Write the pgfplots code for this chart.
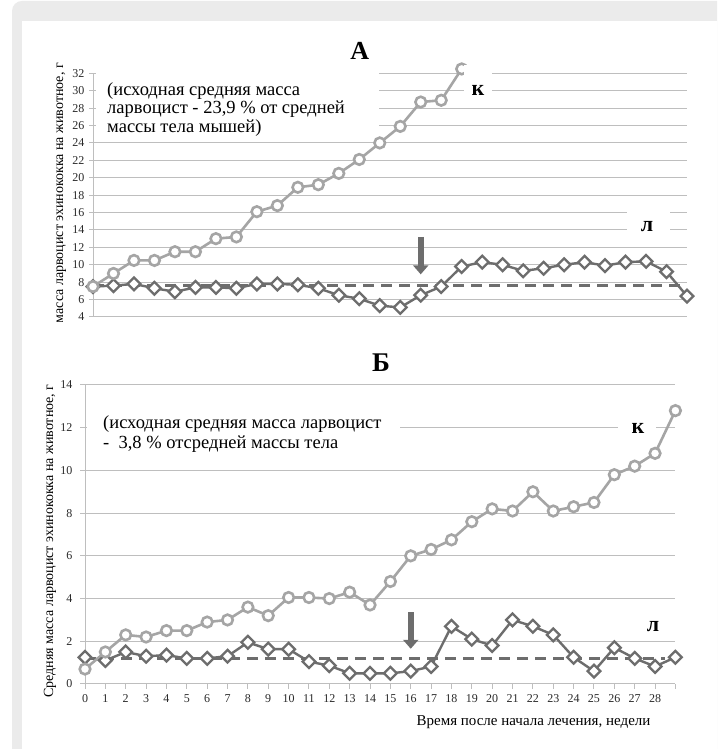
\documentclass[border=0pt]{standalone}
\usepackage{pgfplots}
\pgfplotsset{compat=1.18}
\usepackage{fontspec}
\setmainfont{Liberation Serif}
\usetikzlibrary{arrows.meta}
\definecolor{kc}{HTML}{A5A5A5}
\definecolor{lc}{HTML}{6D6D6D}
\definecolor{gridc}{HTML}{BEBEBE}
\definecolor{bandc}{HTML}{EBEBEB}
\definecolor{txt}{HTML}{2A2A2A}

\pgfplotstableread{
x k
0 7.5
1 9.0
2 10.5
3 10.5
4 11.5
5 11.5
6 13.0
7 13.2
8 16.1
9 16.8
10 18.9
11 19.2
12 20.5
13 22.1
14 24.0
15 25.9
16 28.7
17 28.9
18 32.5
}\Ak
\pgfplotstableread{
x l
0 7.5
1 7.6
2 7.8
3 7.3
4 6.9
5 7.4
6 7.4
7 7.3
8 7.8
9 7.8
10 7.7
11 7.3
12 6.5
13 6.1
14 5.3
15 5.1
16 6.5
17 7.5
18 9.8
19 10.3
20 10.0
21 9.3
22 9.6
23 10.0
24 10.3
25 9.9
26 10.3
27 10.4
28 9.2
29 6.4
}\Al
\pgfplotstableread{
x k l
0 0.7 1.25
1 1.5 1.1
2 2.3 1.5
3 2.2 1.3
4 2.5 1.35
5 2.5 1.2
6 2.9 1.2
7 3.0 1.3
8 3.6 1.95
9 3.2 1.63
10 4.05 1.63
11 4.05 1.05
12 4.0 0.86
13 4.3 0.5
14 3.7 0.5
15 4.8 0.5
16 6.0 0.6
17 6.3 0.82
18 6.75 2.7
19 7.6 2.1
20 8.2 1.8
21 8.1 3.0
22 9.0 2.7
23 8.1 2.3
24 8.3 1.25
25 8.5 0.6
26 9.8 1.7
27 10.2 1.2
28 10.8 0.82
29 12.8 1.25
}\Bdata

\pgfplotsset{
  kstyle/.style={kc, line width=2.6pt, mark=*, mark size=5.3pt, mark options={fill=white, draw=kc, line width=2.6pt}},
  lstyle/.style={lc, line width=2.4pt, mark=square*, mark size=4.5pt, mark options={rotate=45, fill=white, draw=lc, line width=2.3pt}},
  dstyle/.style={lc, line width=2.6pt, dash pattern=on 11pt off 7pt},
}

\begin{document}
\begin{tikzpicture}[x=1pt,y=1pt]
\useasboundingbox (0pt,0pt) rectangle (717pt,749pt);
\fill[white] (0pt,0pt) rectangle (717pt,749pt);
\begin{scope}
\clip (0pt,0pt) rectangle (717pt,749pt);
\fill[bandc, rounded corners=10pt] (12pt,-20pt) rectangle (740pt,748pt);
\fill[white] (22pt,-5pt) rectangle (730pt,728pt);
\end{scope}

% ---------- Panel A ----------
\begin{axis}[
  at={(93pt,432pt)}, anchor=south west, scale only axis,
  width=594pt, height=243.7pt,
  xmin=0, xmax=29, ymin=4, ymax=32,
  ytick={4,6,...,32}, xtick=\empty,
  axis x line*=bottom, axis y line*=left,
  axis line style={gridc, line width=1pt},
  ymajorgrids, grid style={gridc, line width=1pt},
  major tick style={gridc, line width=1pt},
  major tick length=8pt, tick align=center,
  yticklabel style={font=\fontsize{12}{12}\selectfont, text=txt, xshift=-1pt},
  /pgf/number format/assume math mode=true,
  clip=false,
]
\addplot[dstyle] coordinates {(0,7.6) (29,7.6)};
\addplot[lstyle] table[x=x,y=l] {\Al};
\addplot[kstyle] table[x=x,y=k] {\Ak};
\draw[lc, line width=6pt, -{Triangle[width=15pt,length=9pt]}] (axis cs:16,13.2) -- (axis cs:16,8.9);
\end{axis}

% white boxes over gridlines (panel A)
\fill[white] (96pt,614pt) rectangle (379pt,687pt);
\fill[white] (464pt,649pt) rectangle (492pt,684pt);
\fill[white] (627pt,509pt) rectangle (670pt,544pt);
\node[anchor=north west, inner sep=0pt, align=left, font=\fontsize{18.5}{18.5}\selectfont] at (107pt,667pt)
  {(исходная средняя масса\\ларвоцист - 23,9 \% от средней\\массы тела мышей)};
\node[font=\fontsize{22}{22}\selectfont\bfseries] at (478pt,658.3pt) {к};
\node[font=\fontsize{22}{22}\selectfont\bfseries] at (647pt,522.3pt) {л};
\node[font=\fontsize{26}{26}\selectfont\bfseries] at (359.7pt,698.5pt) {А};
\begin{scope}
\clip (0pt,427pt) rectangle (90pt,749pt);
\node[rotate=90, anchor=east, inner sep=0pt, font=\fontsize{14}{14}\selectfont] at (60pt,686pt)
  {Средняя масса ларвоцист эхинококка на животное, г};
\end{scope}

% ---------- Panel B ----------
\begin{axis}[
  at={(85pt,65pt)}, anchor=south west, scale only axis,
  width=590.4pt, height=299pt,
  xmin=0, xmax=29, ymin=0, ymax=14,
  ytick={0,2,...,14},
  xtick={0,...,29},
  xticklabels={0,1,2,3,4,5,6,7,8,9,10,11,12,13,14,15,16,17,18,19,20,21,22,23,24,25,26,27,28,{}},
  axis x line*=bottom, axis y line*=left,
  axis line style={gridc, line width=1pt},
  ymajorgrids, grid style={gridc, line width=1pt},
  major tick style={gridc, line width=1pt},
  major tick length=5pt, tick align=outside,
  yticklabel style={font=\fontsize{12}{12}\selectfont, text=txt, xshift=-4pt},
  xticklabel style={font=\fontsize{12}{12}\selectfont, text=txt, yshift=-2pt},
  /pgf/number format/assume math mode=true,
  clip=false,
]
\addplot[dstyle] coordinates {(0,1.2) (28.5,1.2)};
\addplot[lstyle] table[x=x,y=l] {\Bdata};
\addplot[kstyle] table[x=x,y=k] {\Bdata};
\draw[lc, line width=6pt, -{Triangle[width=15pt,length=9pt]}] (axis cs:16,3.36) -- (axis cs:16,1.65);
\end{axis}

\fill[white] (87pt,294pt) rectangle (400pt,344pt);
\fill[white] (618pt,309pt) rectangle (656pt,339pt);
\node[anchor=north west, inner sep=0pt, align=left, font=\fontsize{18.5}{20.5}\selectfont] at (103pt,334pt)
  {(исходная средняя масса ларвоцист\\-\ \ 3,8 \% отсредней массы тела};
\node[font=\fontsize{22}{22}\selectfont\bfseries] at (638pt,321pt) {к};
\node[font=\fontsize{22}{22}\selectfont\bfseries] at (653pt,122pt) {л};
\node[font=\fontsize{27}{27}\selectfont\bfseries] at (381pt,386.3pt) {Б};
\node[rotate=90, font=\fontsize{14}{14}\selectfont] at (50pt,208pt)
  {Средняя масса ларвоцист эхинококка на животное, г};
\node[font=\fontsize{15}{15}\selectfont] at (533.5pt,27.3pt) {Время после начала лечения, недели};
\end{tikzpicture}
\end{document}
